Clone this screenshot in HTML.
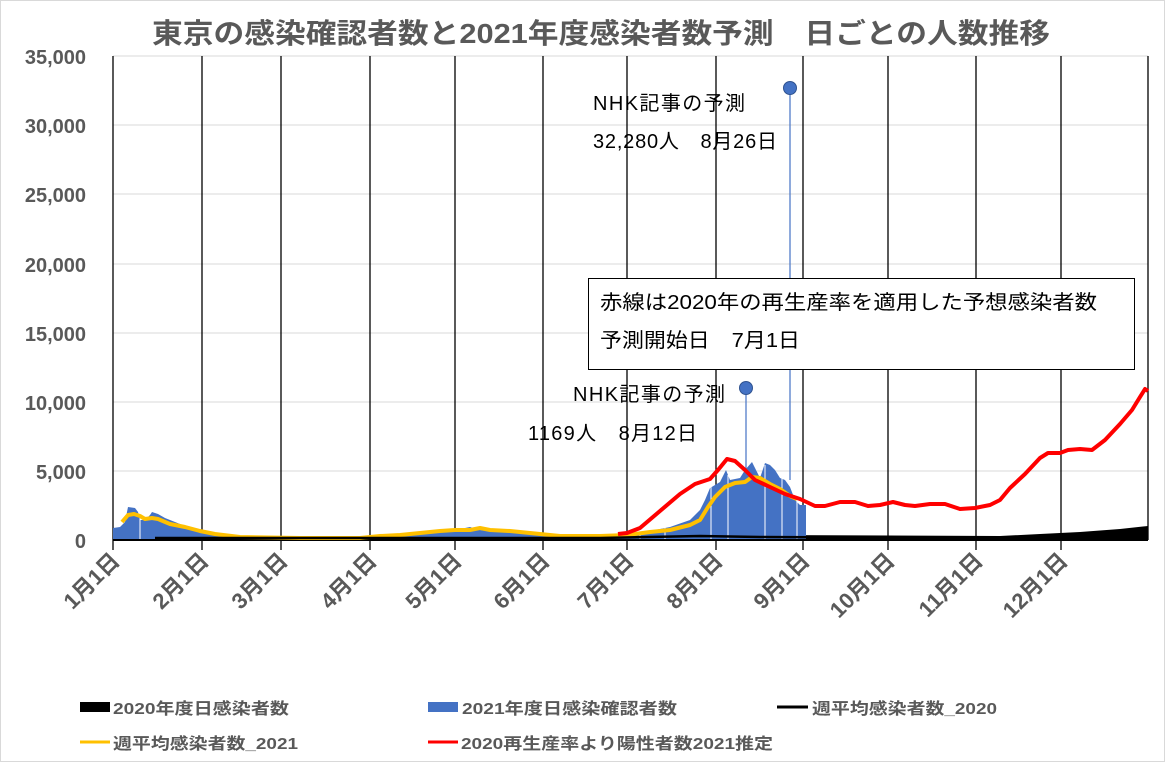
<!DOCTYPE html>
<html><head><meta charset="utf-8"><style>
body{margin:0;background:#fff}
svg{display:block;font-family:"Liberation Sans","Noto Sans CJK JP",sans-serif}
</style></head><body>
<svg width="1165" height="762" viewBox="0 0 1165 762">
<rect width="1165" height="762" fill="#fff"/>
<rect x="0.5" y="0.5" width="1164" height="761" fill="none" stroke="#d9d9d9"/>
<text x="152" y="43" font-size="28" font-weight="bold" fill="#595959" textLength="898" lengthAdjust="spacingAndGlyphs">東京の感染確認者数と2021年度感染者数予測　日ごとの人数推移</text>
<g stroke="#d9d9d9" stroke-width="1">
<line x1="113" x2="1148" y1="56" y2="56"/><line x1="113" x2="1148" y1="125" y2="125"/><line x1="113" x2="1148" y1="194" y2="194"/><line x1="113" x2="1148" y1="264" y2="264"/><line x1="113" x2="1148" y1="333" y2="333"/><line x1="113" x2="1148" y1="402" y2="402"/><line x1="113" x2="1148" y1="471" y2="471"/>
</g>
<g font-size="20" font-weight="bold" fill="#595959" text-anchor="end">
<text x="86" y="64">35,000</text><text x="86" y="133">30,000</text><text x="86" y="202">25,000</text><text x="86" y="272">20,000</text><text x="86" y="341">15,000</text><text x="86" y="410">10,000</text><text x="86" y="479">5,000</text><text x="86" y="548">0</text>
</g>
<g stroke="#000" stroke-width="1.3">
<line x1="113" x2="113" y1="56" y2="550"/><line x1="202" x2="202" y1="56" y2="550"/><line x1="281" x2="281" y1="56" y2="550"/><line x1="370" x2="370" y1="56" y2="550"/><line x1="455" x2="455" y1="56" y2="550"/><line x1="543" x2="543" y1="56" y2="550"/><line x1="627" x2="627" y1="56" y2="550"/><line x1="716" x2="716" y1="56" y2="550"/><line x1="803" x2="803" y1="56" y2="550"/><line x1="888" x2="888" y1="56" y2="550"/><line x1="976" x2="976" y1="56" y2="550"/><line x1="1061" x2="1061" y1="56" y2="550"/><line x1="1148" x2="1148" y1="56" y2="540"/>
</g>
<polygon fill="#000" points="155,540 155,537 400,537 450,535 540,536 700,535 760,535 1000,536 1040,534 1080,532 1120,529 1148,526 1148,540"/>
<polygon fill="#4472c4" points="113,540 113,528 120,527 125,522 128,507 135,508 138,512 140,520 145,520 150,515 152,512 158,514 165,518 175,522 185,526 200,530 220,535 240,537 280,538 360,538 400,535 430,532 455,530 470,527 480,530 500,532 530,534 560,536 600,536 627,535 650,531 670,527 690,520 700,510 705,500 710,488 720,482 726,470 730,480 740,478 745,470 752,462 760,478 765,463 770,465 775,470 780,478 785,480 790,487 795,500 800,505 806,505 806,540"/>
<g stroke="#fff" stroke-width="1">
<line x1="140" x2="140" y1="515" y2="540"/><line x1="640" x2="640" y1="520" y2="540"/><line x1="665" x2="665" y1="520" y2="540"/><line x1="711" x2="711" y1="480" y2="540"/><line x1="728" x2="728" y1="475" y2="540"/><line x1="765" x2="765" y1="465" y2="540"/><line x1="782" x2="782" y1="478" y2="540"/><line x1="797" x2="797" y1="500" y2="540"/>
</g>
<line x1="113" x2="1148" y1="540" y2="540" stroke="#000" stroke-width="2"/>
<line x1="790" y1="88" x2="790" y2="480" stroke="#4472c4" stroke-width="1.2"/>
<line x1="746" y1="388" x2="746" y2="472" stroke="#4472c4" stroke-width="1.2"/>
<circle cx="790" cy="88" r="6.5" fill="#4472c4" stroke="#2f528f"/>
<circle cx="746" cy="388" r="6.5" fill="#4472c4" stroke="#2f528f"/>
<polyline fill="none" stroke="#ffc000" stroke-width="4" stroke-linejoin="round" points="122,522 128,515 134,514 140,516 145,519 152,518 158,519 170,524 185,527 200,531 215,534 240,537 300,538 360,538 380,536 400,535 420,533 440,531 455,530 470,530 480,528 490,530 510,531 530,533 560,536 600,536 627,535 650,532 670,530 690,525 700,520 708,507 715,497 725,487 735,483 745,482 752,477 760,478 770,484 780,489 790,496 797,499"/>
<polyline fill="none" stroke="#ff0000" stroke-width="4" stroke-linejoin="round" points="618,534 627,533 640,528 660,511 680,494 695,484 710,479 718,470 727,459 735,461 745,470 755,480 770,487 785,494 800,499 815,506 825,506 840,502 855,502 868,506 880,505 893,502 905,505 915,506 930,504 945,504 960,509 975,508 990,505 1000,500 1010,488 1025,474 1040,458 1048,453 1060,453 1068,450 1080,449 1092,450 1105,440 1120,424 1132,410 1140,397 1145,389 1148,391"/>
<polyline fill="none" stroke="#000" stroke-width="2.5" points="155,538 400,538 600,538 700,536 760,537 1148,539"/>
<g font-size="20" fill="#000" lengthAdjust="spacingAndGlyphs">
<text x="593" y="110" textLength="152">NHK記事の予測</text>
<text x="593" y="148" textLength="184">32,280人　8月26日</text>
<text x="573" y="401" textLength="152">NHK記事の予測</text>
<text x="528" y="440" textLength="169">1169人　8月12日</text>
</g>
<rect x="588.5" y="278.5" width="546" height="91" fill="#fff" stroke="#000"/>
<g font-size="20" fill="#000">
<text x="600" y="309" textLength="497" lengthAdjust="spacingAndGlyphs">赤線は2020年の再生産率を適用した予想感染者数</text>
<text x="600" y="347" textLength="200" lengthAdjust="spacingAndGlyphs">予測開始日　7月1日</text>
</g>
<g font-size="22" font-weight="bold" fill="#595959" text-anchor="end">
<text transform="translate(121,562) rotate(-45)">1月1日</text>
<text transform="translate(210,562) rotate(-45)">2月1日</text>
<text transform="translate(289,562) rotate(-45)">3月1日</text>
<text transform="translate(378,562) rotate(-45)">4月1日</text>
<text transform="translate(463,562) rotate(-45)">5月1日</text>
<text transform="translate(551,562) rotate(-45)">6月1日</text>
<text transform="translate(635,562) rotate(-45)">7月1日</text>
<text transform="translate(724,562) rotate(-45)">8月1日</text>
<text transform="translate(811,562) rotate(-45)">9月1日</text>
<text transform="translate(896,562) rotate(-45)">10月1日</text>
<text transform="translate(984,562) rotate(-45)">11月1日</text>
<text transform="translate(1069,562) rotate(-45)">12月1日</text>
</g>
<g font-size="16" font-weight="bold" fill="#595959">
<rect x="80" y="702" width="30" height="10" fill="#000"/><text x="113" y="714" textLength="176" lengthAdjust="spacingAndGlyphs">2020年度日感染者数</text>
<rect x="428" y="702" width="30" height="10" fill="#4472c4"/><text x="462" y="714" textLength="215" lengthAdjust="spacingAndGlyphs">2021年度日感染確認者数</text>
<line x1="777" x2="808" y1="707" y2="707" stroke="#000" stroke-width="3"/><text x="812" y="714" textLength="185" lengthAdjust="spacingAndGlyphs">週平均感染者数_2020</text>
<line x1="80" x2="110" y1="742" y2="742" stroke="#ffc000" stroke-width="3"/><text x="113" y="749" textLength="185" lengthAdjust="spacingAndGlyphs">週平均感染者数_2021</text>
<line x1="428" x2="458" y1="742" y2="742" stroke="#ff0000" stroke-width="3"/><text x="461" y="749" textLength="312" lengthAdjust="spacingAndGlyphs">2020再生産率より陽性者数2021推定</text>
</g>
</svg>
</body></html>
